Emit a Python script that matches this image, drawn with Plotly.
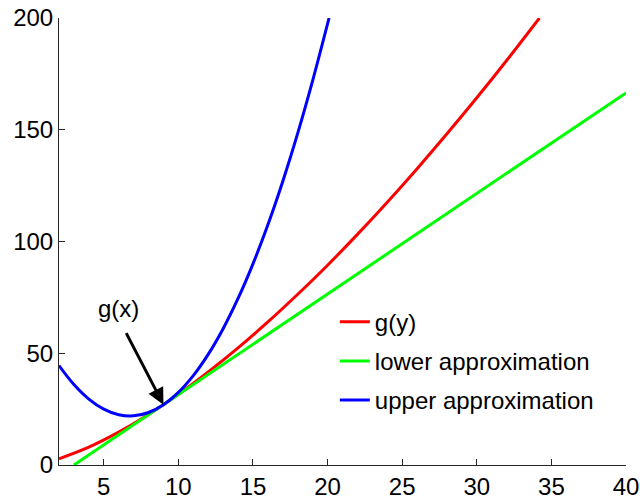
import plotly.graph_objects as go

# Sampled values of g and its two approximations around the point x = 9
g_x = [2, 4, 6, 8, 10, 12, 14, 16, 18, 20, 22, 24, 26, 28, 30, 32, 34.2]
g_y = [2.8, 8.0, 14.7, 22.6, 31.6, 41.6, 52.4, 64.0, 76.4, 89.4, 103.2,
       117.6, 132.6, 148.2, 164.3, 181.0, 200.0]

lower_x = [3, 40]
lower_y = [0, 166.5]

upper_x = [2, 3, 4, 5, 6, 7, 8, 9, 10, 11, 12, 13, 14, 15, 16, 17, 18, 19, 20.1]
upper_y = [44.5, 36.0, 29.5, 25.0, 22.5, 22.0, 23.5, 27.0, 32.5, 40.0, 49.5,
           61.0, 74.5, 90.0, 107.5, 127.0, 148.5, 172.0, 200.0]

x_ticks = [5, 10, 15, 20, 25, 30, 35, 40]
y_ticks = [0, 50, 100, 150, 200]

tangent_point = (9, 27)
label_point = (6.0, 70.2)

FONT = "Liberation Sans, Arial, Helvetica, sans-serif"
FS = 24

fig = go.Figure()
fig.add_trace(go.Scatter(x=g_x, y=g_y, mode="lines", name="g(y)",
                         line=dict(color="#ff0000", width=3, shape="spline"),
                         legendgroup="a"))
fig.add_trace(go.Scatter(x=lower_x, y=lower_y, mode="lines", name="lower approximation",
                         line=dict(color="#00ff00", width=3),
                         legendgroup="b"))
fig.add_trace(go.Scatter(x=upper_x, y=upper_y, mode="lines", name="upper approximation",
                         line=dict(color="#0000ff", width=3, shape="spline"),
                         legendgroup="c"))

# arrow pointing at the tangent point, and its label
fig.add_annotation(x=tangent_point[0], y=tangent_point[1], xref="x", yref="y",
                   text="", showarrow=True, ax=-38, ay=-73,
                   arrowhead=2, arrowsize=1.1, arrowwidth=3, arrowcolor="#000000",
                   standoff=0)
fig.add_annotation(x=label_point[0], y=label_point[1], xref="x", yref="y",
                   text="g(x)", showarrow=False,
                   font=dict(family=FONT, size=FS, color="#000000"))

axis_common = dict(showgrid=False, zeroline=False, showline=True, linecolor="#262626",
                   linewidth=1, ticks="inside", ticklen=6, tickcolor="#262626",
                   tickfont=dict(family=FONT, size=FS, color="#000000"), mirror=False,
                   automargin=False)

fig.update_xaxes(range=[2, 40], tickvals=x_ticks, **axis_common)
fig.update_yaxes(range=[0, 200], tickvals=y_ticks, **axis_common)

fig.update_layout(
    width=640, height=497,
    margin=dict(l=59, r=14, t=18, b=32),
    paper_bgcolor="white", plot_bgcolor="white",
    showlegend=True,
    legend=dict(x=0.4865, y=0.37, xanchor="left", yanchor="top",
                bgcolor="rgba(255,255,255,1)", borderwidth=0,
                font=dict(family=FONT, size=FS, color="#000000"),
                tracegroupgap=5),
)

fig.write_html("out.html")
